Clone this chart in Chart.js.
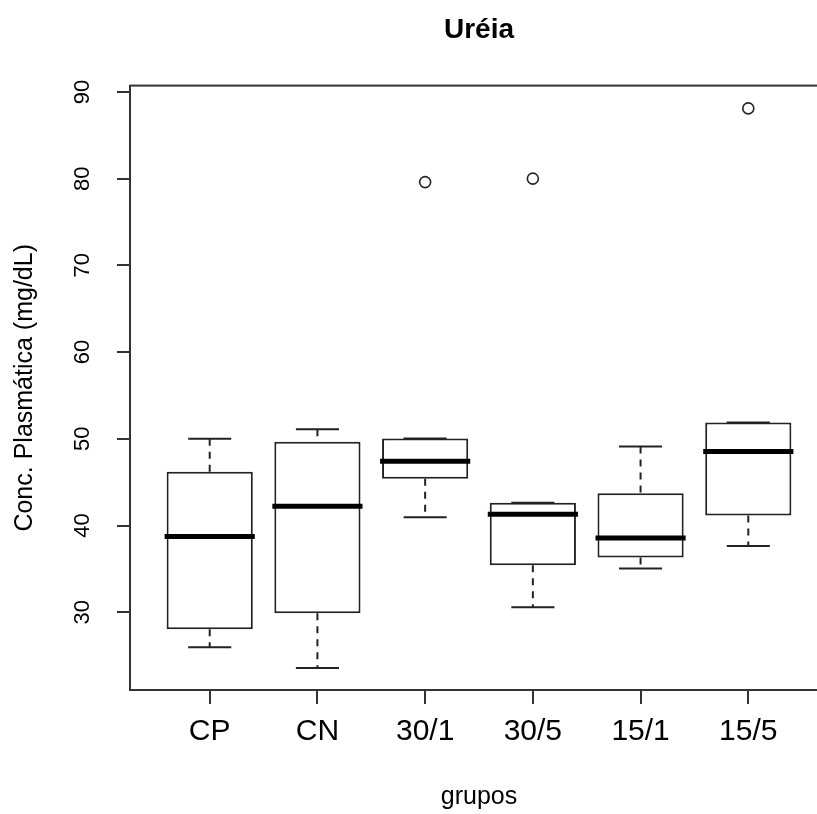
<!DOCTYPE html>
<html>
<head>
<meta charset="utf-8">
<title>Uréia</title>
<script src="https://cdn.jsdelivr.net/npm/chart.js"></script>
<style>
  body { margin: 0; background: #fff; }
  #wrap { width: 817px; height: 814px; overflow: hidden; position: relative; }
</style>
</head>
<body>
<div id="wrap"><canvas id="boxChart" width="840" height="814"></canvas></div>
<script>
// Box plot values
const groups = ['CP', 'CN', '30/1', '30/5', '15/1', '15/5'];
const whiskerLow = [25.96, 23.57, 40.96, 30.58, 35.03, 37.65];
const q1 = [28.04, 29.88, 45.38, 35.42, 36.30, 41.15];
const median = [38.72, 42.23, 47.42, 41.31, 38.57, 48.53];
const q3 = [46.19, 49.65, 50.03, 42.61, 43.73, 51.88];
const whiskerHigh = [50.00, 51.11, 50.03, 42.61, 49.11, 51.88];
const outlierGroup = [2, 3, 5];
const outlierValue = [79.6, 80.0, 88.1];
const yTicks = [30, 40, 50, 60, 70, 80, 90];

const FONT = "'Liberation Sans', Arial, sans-serif";
const INK = '#222222';

// whiskers, caps, medians and the frame round the plot
const boxParts = {
    id: 'boxParts',
    afterDatasetsDraw(chart) {
        const ctx = chart.ctx;
        const x = chart.scales.x;
        const y = chart.scales.y;
        const unit = x.getPixelForValue(1) - x.getPixelForValue(0);
        const half = unit * 0.4;
        const cap = unit * 0.2;
        ctx.save();
        ctx.strokeStyle = INK;
        groups.forEach((g, i) => {
            const cx = x.getPixelForValue(i);
            // dashed whiskers
            ctx.lineWidth = 2;
            ctx.setLineDash([7, 6]);
            ctx.beginPath();
            ctx.moveTo(cx, y.getPixelForValue(whiskerHigh[i]));
            ctx.lineTo(cx, y.getPixelForValue(q3[i]));
            ctx.moveTo(cx, y.getPixelForValue(q1[i]));
            ctx.lineTo(cx, y.getPixelForValue(whiskerLow[i]));
            ctx.stroke();
            // caps
            ctx.setLineDash([]);
            ctx.beginPath();
            [whiskerHigh[i], whiskerLow[i]].forEach(v => {
                const py = y.getPixelForValue(v);
                ctx.moveTo(cx - cap, py);
                ctx.lineTo(cx + cap, py);
            });
            ctx.stroke();
            // median
            ctx.lineWidth = 5;
            ctx.strokeStyle = '#000';
            ctx.beginPath();
            const my = y.getPixelForValue(median[i]);
            ctx.moveTo(cx - half - 2, my);
            ctx.lineTo(cx + half + 2, my);
            ctx.stroke();
            ctx.strokeStyle = INK;
        });
        const a = chart.chartArea;
        ctx.lineWidth = 2;
        ctx.strokeStyle = '#333';
        ctx.strokeRect(a.left, a.top, a.right - a.left, a.bottom - a.top);
        ctx.restore();
    }
};

const ctx = document.getElementById('boxChart').getContext('2d');

const chart = new Chart(ctx, {
    type: 'bar',
    data: {
        datasets: [
            {
                type: 'bar',
                label: 'caixa',
                data: groups.map((g, i) => ({ x: i, y: [q1[i], q3[i]] })),
                backgroundColor: '#ffffff',
                borderColor: INK,
                borderWidth: 2,
                borderSkipped: false,
                categoryPercentage: 0.8,
                barPercentage: 1.0
            },
            {
                type: 'scatter',
                label: 'outliers',
                data: outlierGroup.map((g, i) => ({ x: g, y: outlierValue[i] })),
                pointRadius: 5.5,
                pointBackgroundColor: '#ffffff',
                pointBorderColor: INK,
                pointBorderWidth: 1.6,
                showLine: false
            }
        ]
    },
    options: {
        responsive: false,
        animation: false,
        layout: {
            padding: { left: 0, right: 12, top: 0, bottom: 0 }
        },
        plugins: {
            legend: { display: false },
            tooltip: { enabled: false },
            title: {
                display: true,
                text: 'Uréia',
                fullSize: false,
                color: '#000',
                font: { family: FONT, size: 28, weight: 'bold', lineHeight: 1.2 },
                padding: { top: 13, bottom: 39 }
            }
        },
        scales: {
            x: {
                type: 'linear',
                min: -0.74,
                max: 5.74,
                offset: false,
                afterBuildTicks: (scale) => {
                    scale.ticks = groups.map((g, i) => ({ value: i }));
                },
                afterFit: (scale) => { scale.height = 124; },
                grid: {
                    offset: false,
                    drawOnChartArea: false,
                    drawTicks: true,
                    tickLength: 14,
                    color: '#333',
                    lineWidth: 2
                },
                border: { display: false },
                ticks: {
                    autoSkip: false,
                    maxRotation: 0,
                    padding: 10,
                    color: '#000',
                    font: { family: FONT, size: 30 },
                    callback: (v) => groups[v]
                },
                title: {
                    display: true,
                    text: 'grupos',
                    color: '#000',
                    font: { family: FONT, size: 25, lineHeight: 1.2 },
                    padding: { top: 0, bottom: 2 }
                }
            },
            y: {
                type: 'linear',
                min: 21.03,
                max: 90.73,
                afterBuildTicks: (scale) => {
                    scale.ticks = yTicks.map(v => ({ value: v }));
                },
                afterFit: (scale) => { scale.width = 130; },
                grid: {
                    drawOnChartArea: false,
                    drawTicks: true,
                    tickLength: 13,
                    color: '#333',
                    lineWidth: 2
                },
                border: { display: false },
                ticks: {
                    minRotation: 90,
                    maxRotation: 90,
                    crossAlign: 'center',
                    padding: 22,
                    color: '#000',
                    font: { family: FONT, size: 22 }
                },
                title: {
                    display: true,
                    text: 'Conc. Plasmática (mg/dL)',
                    color: '#000',
                    font: { family: FONT, size: 25, lineHeight: 1.2 },
                    padding: { top: 10, bottom: 0 }
                }
            }
        }
    },
    plugins: [boxParts]
});
</script>
</body>
</html>
